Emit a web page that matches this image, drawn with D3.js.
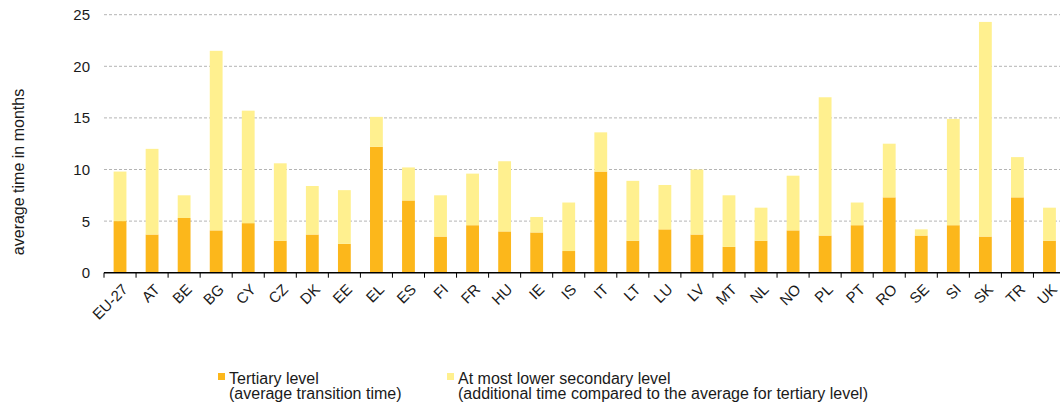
<!DOCTYPE html>
<html>
<head>
<meta charset="utf-8">
<script src="https://cdn.jsdelivr.net/npm/d3@7/dist/d3.min.js"></script>
<style>
  html, body { margin: 0; padding: 0; background: #fff; }
  svg { display: block; font-family: "Liberation Sans", Arial, sans-serif; }
</style>
</head>
<body>
<svg id="chart" width="1060" height="408"></svg>
<script>
const categories = ["EU-27","AT","BE","BG","CY","CZ","DK","EE","EL","ES","FI","FR","HU","IE","IS","IT","LT","LU","LV","MT","NL","NO","PL","PT","RO","SE","SI","SK","TR","UK"];
const tertiary   = [5.0, 3.7, 5.3, 4.1, 4.8, 3.1, 3.7, 2.8, 12.2, 7.0, 3.5, 4.6, 4.0, 3.9, 2.1, 9.8, 3.1, 4.2, 3.7, 2.5, 3.1, 4.1, 3.6, 4.6, 7.3, 3.6, 4.6, 3.5, 7.3, 3.1];
const additional = [4.8, 8.3, 2.2, 17.4, 10.9, 7.5, 4.7, 5.2, 2.9, 3.2, 4.0, 5.0, 6.8, 1.5, 4.7, 3.8, 5.8, 4.3, 6.3, 5.0, 3.2, 5.3, 13.4, 2.2, 5.2, 0.6, 10.3, 20.8, 3.9, 3.2];
const yTicks = [0, 5, 10, 15, 20, 25];
const seriesNames = ["tertiary", "additional"];
const legendLines = [
  ["Tertiary level", "(average transition time)"],
  ["At most lower secondary level", "(additional time compared to the average for tertiary level)"]
];
const colors = { tertiary: "#FCB71B", additional: "#FFF08F" };

const svg = d3.select("#chart");
const x0 = 104, x1 = 1065.5, yTop = 14.7, yBottom = 272.7;

const x = d3.scaleBand().domain(categories).range([x0, x1]).paddingInner(0).paddingOuter(0);
const y = d3.scaleLinear().domain([0, 25]).range([yBottom, yTop]);

// gridlines
svg.append("g").selectAll("line").data(yTicks.filter(d => d > 0)).join("line")
  .attr("x1", x0).attr("x2", 1060)
  .attr("y1", d => y(d)).attr("y2", d => y(d))
  .attr("stroke", "#b4b4b4").attr("stroke-width", 1).attr("stroke-dasharray", "3,2");

// y tick labels
svg.append("g").selectAll("text").data(yTicks).join("text")
  .attr("x", 90).attr("y", d => y(d)).attr("dy", "0.36em")
  .attr("text-anchor", "end").attr("font-size", 15).attr("fill", "#1a1a1a")
  .text(d => d);

// stacked data
const data = categories.map((c, i) => ({ cat: c, tertiary: tertiary[i], additional: additional[i] }));
const stack = d3.stack().keys(seriesNames)(data);

const bw = x.bandwidth() * 0.4;
svg.append("g").selectAll("g").data(stack).join("g")
  .attr("fill", d => colors[d.key])
  .selectAll("rect").data(d => d).join("rect")
  .attr("x", d => x(d.data.cat) + x.bandwidth() / 2 - bw / 2)
  .attr("width", bw)
  .attr("y", d => y(d[1]))
  .attr("height", d => y(d[0]) - y(d[1]));

// x axis
const xAxis = svg.append("g").attr("transform", `translate(0,${yBottom})`);
xAxis.append("line").attr("x1", x0).attr("x2", 1060).attr("y1", 0).attr("y2", 0)
  .attr("stroke", "#000").attr("stroke-width", 1.5);
xAxis.selectAll("line.tick").data(categories).join("line").attr("class", "tick")
  .attr("x1", d => x(d)).attr("x2", d => x(d)).attr("y1", 0).attr("y2", 5)
  .attr("stroke", "#000").attr("stroke-width", 1);
xAxis.selectAll("text").data(categories).join("text")
  .attr("transform", d => `translate(${x(d) + x.bandwidth() / 2 + 5},${14}) rotate(-45)`)
  .attr("text-anchor", "end").attr("dy", "0.35em")
  .attr("font-size", 15).attr("fill", "#1a1a1a")
  .text(d => d);

// y axis title
svg.append("text")
  .attr("transform", `translate(24,172) rotate(-90)`)
  .attr("text-anchor", "middle").attr("font-size", 16).attr("fill", "#1a1a1a")
  .text("average time in months");

// legend
const legendX = [218, 447];
const legend = svg.append("g");
seriesNames.forEach((k, i) => {
  const g = legend.append("g");
  g.append("rect").attr("x", legendX[i]).attr("y", 373).attr("width", 7).attr("height", 7).attr("fill", colors[k]);
  g.selectAll("text").data(legendLines[i]).join("text")
    .attr("x", legendX[i] + 11).attr("y", (d, j) => 384 + j * 15)
    .attr("font-size", 16).attr("fill", "#1a1a1a")
    .text(d => d);
});
</script>
</body>
</html>
